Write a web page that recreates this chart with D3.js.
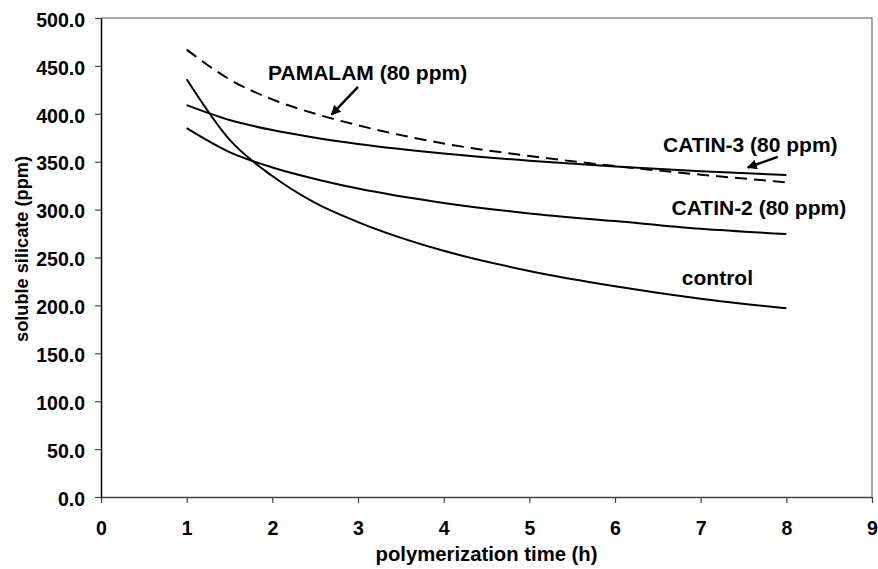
<!DOCTYPE html>
<html>
<head>
<meta charset="utf-8">
<script src="https://cdn.jsdelivr.net/npm/d3@7"></script>
<style>
  html, body { margin: 0; padding: 0; background: #fff; }
  svg { display: block; }
  text { font-family: "Liberation Sans", Arial, sans-serif; font-weight: bold; fill: #000; }
</style>
</head>
<body>
<svg id="chart" width="878" height="569"></svg>
<script>
// ---- data ----
const hours = [1, 1.5, 2, 2.5, 3, 4, 5, 6, 7, 8];
const control = [436, 373, 335, 307, 287, 257, 236, 220, 207, 197];
const catin2 = [385, 360, 344, 332, 322, 307, 296, 288, 280, 274.5];
const catin3 = [409, 393.5, 383, 375, 368.5, 358.5, 351, 345, 340, 336];
const pamalam = [467, 436, 415, 400, 388, 369, 356, 345.5, 336.5, 328.5];
const xTicks = [0, 1, 2, 3, 4, 5, 6, 7, 8, 9];
const yTicks = [0, 50, 100, 150, 200, 250, 300, 350, 400, 450, 500];
const xTitle = "polymerization time (h)";
const yTitle = "soluble silicate (ppm)";
// annotations in data units
const annotations = [
  { text: "PAMALAM (80 ppm)", x: 1.95, y: 435, arrow: [[3.0, 428], [2.69, 399]] },
  { text: "CATIN-3 (80 ppm)", x: 6.56, y: 360.5, arrow: [[7.9, 355], [7.55, 344]] },
  { text: "CATIN-2 (80 ppm)", x: 6.66, y: 294.5, arrow: null },
  { text: "control", x: 6.78, y: 221.5, arrow: null }
];

const svg = d3.select("#chart");
const mL = 101, mR = 872, mT = 18, mB = 497;
const x = d3.scaleLinear().domain([0, 9]).range([mL, mR]);
const y = d3.scaleLinear().domain([0, 500]).range([mB, mT]);

// plot border (top and right)
svg.append("path")
  .attr("d", `M${mL},${mT}H${mR}V${mB}`)
  .attr("fill", "none").attr("stroke", "#8a8a8a").attr("stroke-width", 1.5);

// x axis
const xa = svg.append("g").attr("transform", `translate(0,${mB})`)
  .call(d3.axisBottom(x).tickValues(xTicks).tickFormat(d3.format("d")).tickSize(6).tickSizeOuter(0));
xa.select(".domain").attr("stroke", "#444").attr("stroke-width", 1.5);
xa.selectAll(".tick line").attr("stroke", "#444").attr("stroke-width", 1.2);
xa.selectAll(".tick text").attr("font-size", 19.5).attr("dy", null).attr("y", 38)
  .attr("font-family", "Liberation Sans").attr("font-weight", "bold").attr("fill", "#000");

// y axis
const ya = svg.append("g").attr("transform", `translate(${mL},0)`)
  .call(d3.axisLeft(y).tickValues(yTicks).tickFormat(d3.format(".1f")).tickSize(6).tickSizeOuter(0));
ya.select(".domain").attr("stroke", "#000").attr("stroke-width", 1.5);
ya.selectAll(".tick line").attr("stroke", "#444").attr("stroke-width", 1.2);
ya.selectAll(".tick text").attr("font-size", 19.5).attr("x", -16).attr("dy", "0.42em")
  .attr("font-family", "Liberation Sans").attr("font-weight", "bold").attr("fill", "#000");

// axis titles
svg.append("text").attr("x", (mL + mR) / 2).attr("y", 561)
  .attr("text-anchor", "middle").attr("font-size", 20.3).text(xTitle);
svg.append("text").attr("transform", `translate(28,249) rotate(-90)`)
  .attr("text-anchor", "middle").attr("font-size", 18.2).text(yTitle);

// series
const line = d3.line().x((d, i) => x(hours[i])).y(d => y(d)).curve(d3.curveMonotoneX);
const series = [
  { values: control, dash: null },
  { values: catin2, dash: null },
  { values: catin3, dash: null },
  { values: pamalam, dash: "12,7" }
];
series.forEach(s => {
  svg.append("path").datum(s.values).attr("d", line)
    .attr("fill", "none").attr("stroke", "#000").attr("stroke-width", 2)
    .attr("stroke-dasharray", s.dash);
});

// arrow marker
svg.append("defs").append("marker")
  .attr("id", "arr").attr("viewBox", "0 0 10 10").attr("refX", 9).attr("refY", 5)
  .attr("markerWidth", 4).attr("markerHeight", 4).attr("orient", "auto")
  .append("path").attr("d", "M0,0L10,5L0,10z").attr("fill", "#000");

annotations.forEach(a => {
  svg.append("text").attr("x", x(a.x)).attr("y", y(a.y)).attr("font-size", 21).text(a.text);
  if (a.arrow) {
    svg.append("line")
      .attr("x1", x(a.arrow[0][0])).attr("y1", y(a.arrow[0][1]))
      .attr("x2", x(a.arrow[1][0])).attr("y2", y(a.arrow[1][1]))
      .attr("stroke", "#000").attr("stroke-width", 2.5).attr("marker-end", "url(#arr)");
  }
});
</script>
</body>
</html>
